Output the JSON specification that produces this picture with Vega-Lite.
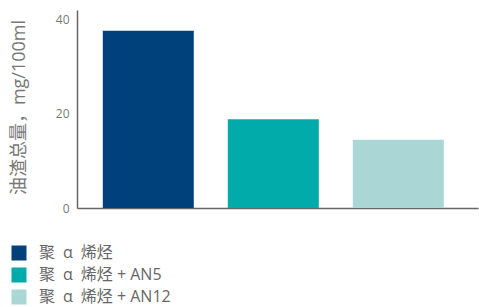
{
  "$schema": "https://vega.github.io/schema/vega-lite/v6.json",
  "autosize": {"type": "none"},
  "width": 401,
  "height": 198,
  "padding": {"left": 77, "top": 10, "right": 1, "bottom": 99},
  "background": "white",
  "config": {
    "view": {"stroke": null},
    "font": "Open Sans, Noto Sans CJK SC"
  },
  "data": {
    "values": [
      {"group": "聚\u2002α\u2002烯烃", "value": 37.6},
      {"group": "聚\u2002α\u2002烯烃 + AN5", "value": 18.8},
      {"group": "聚\u2002α\u2002烯烃 + AN12", "value": 14.5}
    ]
  },
  "mark": {"type": "bar"},
  "encoding": {
    "x": {
      "field": "group",
      "type": "nominal",
      "sort": null,
      "scale": {"paddingInner": 0.272, "paddingOuter": 0.24, "align": 0.43},
      "axis": {"labels": false, "ticks": false, "title": null, "domainColor": "#666666", "domainWidth": 1.5}
    },
    "y": {
      "field": "value",
      "type": "quantitative",
      "scale": {"domain": [0, 42], "nice": false},
      "axis": {
        "values": [0, 20, 40],
        "grid": false,
        "ticks": false,
        "domainColor": "#666666",
        "domainWidth": 1.5,
        "labelColor": "#777777",
        "labelFontSize": 12,
        "labelPadding": 8,
        "title": "油渣总量，mg/100ml",
        "titleColor": "#777777",
        "titleFontSize": 18,
        "titleFontWeight": "normal",
        "titleX": -58,
        "titleY": 97,
        "titleAlign": "center",
        "titleBaseline": "middle",
        "titleAngle": -90
      }
    },
    "color": {
      "field": "group",
      "type": "nominal",
      "sort": null,
      "scale": {"range": ["#00417B", "#00ABA9", "#AAD7D6"]},
      "legend": {
        "title": null,
        "orient": "none",
        "legendX": -66,
        "legendY": 235,
        "symbolType": "square",
        "symbolSize": 225,
        "symbolStrokeWidth": 0,
        "labelFontSize": 16,
        "labelColor": "#666666",
        "labelOffset": 12,
        "rowPadding": 6
      }
    }
  }
}
